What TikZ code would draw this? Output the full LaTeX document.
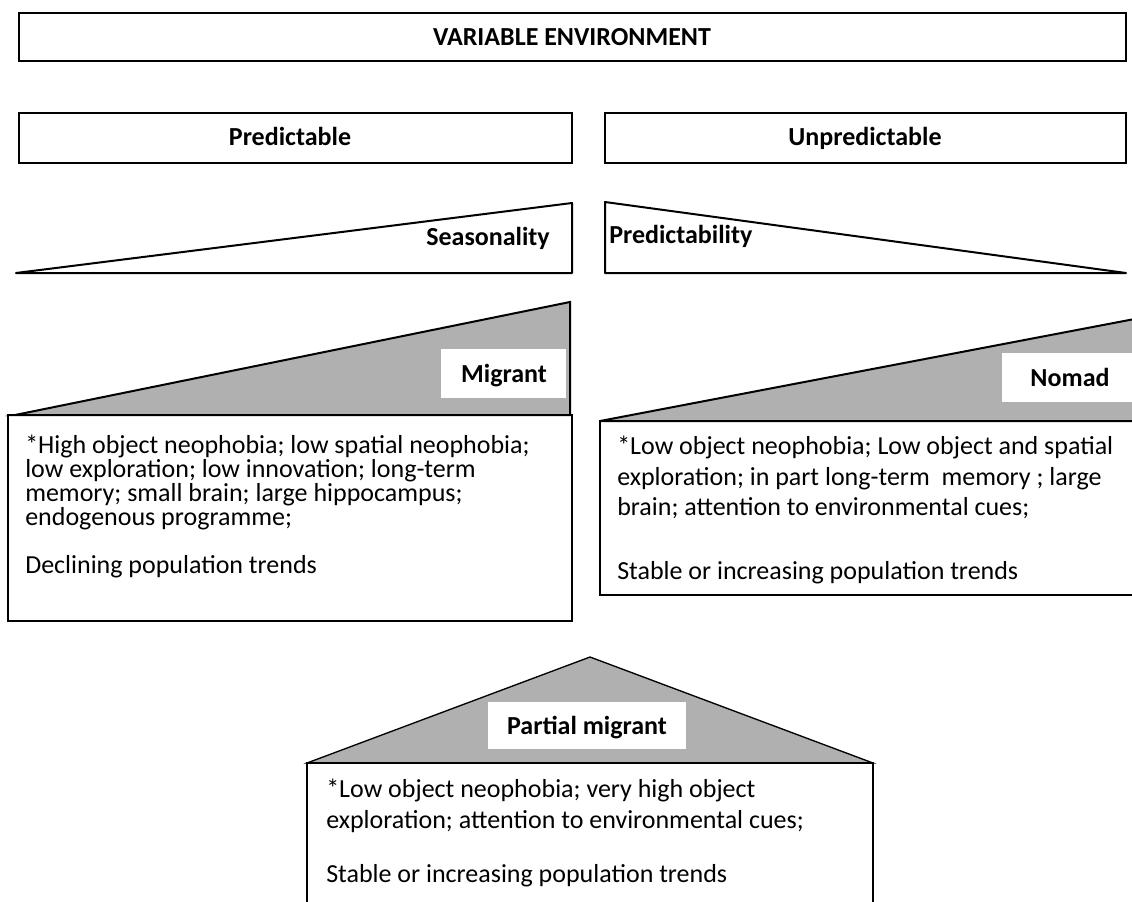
\documentclass[tikz,border=0pt]{standalone}
\usepackage{fontspec}
\setmainfont{Carlito}
\definecolor{tri}{RGB}{176,176,176}
\newcommand\mytightls{\lineskiplimit=-20pt\relax}
\begin{document}
\begin{tikzpicture}[x=0.75pt,y=-0.75pt,
  frame/.style={draw=black,line width=1.5pt},
  lbl/.style={font=\fontsize{19.5}{22}\selectfont\bfseries,inner sep=0pt,anchor=base},
  body/.style={inner sep=0pt,align=left,anchor=base west},
  whitebox/.style={fill=white,draw=none}]
\useasboundingbox (0,0) rectangle (1132,901);
\clip (0,0) rectangle (1132,901);
% top boxes
\draw[frame] (19,13) rectangle (1126,61);
\node[lbl] (env) at (572,45) {VARIABLE ENVIRONMENT};
\draw[frame] (19,113) rectangle (572,163);
\node[lbl] (pred) at (290,145) {Predictable};
\draw[frame] (605,113) rectangle (1126,163);
\node[lbl] (unpred) at (865,145) {Unpredictable};
% gradient triangles
\draw[frame,line join=round] (16,273) -- (572,203) -- (572,273) -- cycle;
\node[lbl,anchor=base east] (seas) at (550,245) {Seasonality};
\draw[frame,line join=round] (605,202) -- (605,273) -- (1126,273) -- cycle;
\node[lbl,anchor=base west] (predy) at (609,243) {Predictability};
% migrant
\draw[frame,fill=tri] (15,415) -- (570,302) -- (570,415) -- cycle;
\fill[whitebox] (441,349) rectangle (566,398);
\node[lbl] (mig) at (504,382) {Migrant};
\draw[frame] (8,415) rectangle (572,621);
\node[body,font=\fontsize{19.5}{18}\selectfont\mytightls] (migtxt) at (25,573) {*High object neophobia; low spatial neophobia;\\
low exploration; low innovation; long-term\\
memory; small brain; large hippocampus;\\
endogenous programme;\\[18pt]
Declining population trends};
% nomad
\draw[frame,fill=tri] (600,421) -- (1145,317) -- (1145,421) -- cycle;
\fill[whitebox] (1002,353) rectangle (1140,402);
\node[lbl] (nom) at (1070,386) {Nomad};
\draw[frame] (600,421) rectangle (1145,595);
\node[body,font=\fontsize{19.5}{22.8}\selectfont\mytightls] (nomtxt) at (617,579) {*Low object neophobia; Low object and spatial\\
exploration; in part long-term\ \ memory ; large\\
brain; attention to environmental cues;\\[24.75pt]
Stable or increasing population trends};
% partial migrant
\draw[frame,fill=tri,line width=1pt] (307,763) -- (590,657) -- (873,763) -- cycle;
\fill[whitebox] (488,702) rectangle (686,749);
\node[lbl] (pm) at (587,734) {Partial migrant};
\draw[frame] (307,763) rectangle (873,920);
\node[body,font=\fontsize{19.5}{23.25}\selectfont\mytightls] (pmtxt) at (326,882) {*Low object neophobia; very high object\\
exploration; attention to environmental cues;\\[17.25pt]
Stable or increasing population trends};
\end{tikzpicture}
\end{document}
